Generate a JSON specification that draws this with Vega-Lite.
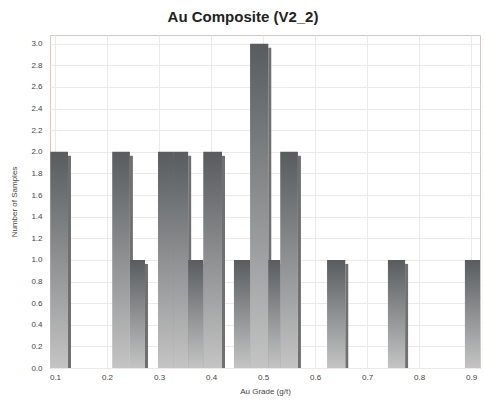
{
  "$schema": "https://vega.github.io/schema/vega-lite/v6.json",
  "width": 430,
  "height": 333,
  "autosize": {"type": "none"},
  "padding": {"left": 50, "top": 35, "right": 5, "bottom": 35},
  "background": "white",
  "title": {"text": "Au Composite (V2_2)", "fontSize": 15, "font": "Liberation Sans", "fontWeight": "bold", "color": "#222", "offset": 10, "anchor": "middle", "dx": -22},
  "config": {
    "view": {"stroke": "#d8c8c0", "strokeWidth": 1},
    "axis": {"labelFont": "Liberation Sans", "titleFont": "Liberation Sans", "labelFontSize": 8, "titleFontSize": 8, "labelColor": "#444", "titleColor": "#444", "titleFontWeight": "normal", "ticks": false, "domain": false, "gridColor": "#f0e8e6", "gridWidth": 1}
  },
  "data": {"values": [
    {"lo": 0.091, "hi": 0.125, "n": 2},
    {"lo": 0.21, "hi": 0.244, "n": 2},
    {"lo": 0.244, "hi": 0.273, "n": 1},
    {"lo": 0.298, "hi": 0.327, "n": 2},
    {"lo": 0.327, "hi": 0.356, "n": 2},
    {"lo": 0.356, "hi": 0.385, "n": 1},
    {"lo": 0.385, "hi": 0.421, "n": 2},
    {"lo": 0.444, "hi": 0.475, "n": 1},
    {"lo": 0.475, "hi": 0.51, "n": 3},
    {"lo": 0.51, "hi": 0.533, "n": 1},
    {"lo": 0.533, "hi": 0.567, "n": 2},
    {"lo": 0.623, "hi": 0.658, "n": 1},
    {"lo": 0.74, "hi": 0.773, "n": 1},
    {"lo": 0.888, "hi": 0.917, "n": 1}
  ]},
  "encoding": {
    "y": {"field": "n", "type": "quantitative", "scale": {"domain": [0, 3.08], "nice": false}, "axis": {"values": [0, 0.2, 0.4, 0.6, 0.8, 1.0, 1.2, 1.4, 1.6, 1.8, 2.0, 2.2, 2.4, 2.6, 2.8, 3.0], "format": ".1f", "title": "Number of Samples", "labelPadding": 8, "titlePadding": 12}}
  },
  "layer": [
    {
      "mark": {"type": "rect", "color": "#707070", "x2Offset": 3, "yOffset": 4, "clip": true},
      "encoding": {
        "x": {"field": "hi", "type": "quantitative", "scale": {"domain": [0.0904, 0.917], "nice": false}, "axis": {"values": [0.1, 0.2, 0.3, 0.4, 0.5, 0.6, 0.7, 0.8, 0.9], "format": ".1f", "title": "Au Grade (g/t)", "labelPadding": 5, "titlePadding": 6}},
        "x2": {"field": "hi"},
        "y": {"field": "n", "type": "quantitative"},
        "y2": {"datum": 0}
      }
    },
    {
      "mark": {"type": "rect", "clip": true, "color": {"gradient": "linear", "x1": 0, "y1": 0, "x2": 0, "y2": 1, "stops": [{"offset": 0, "color": "#585c5f"}, {"offset": 1, "color": "#c4c4c4"}]}},
      "encoding": {
        "x": {"field": "lo", "type": "quantitative"},
        "x2": {"field": "hi"},
        "y": {"field": "n", "type": "quantitative"},
        "y2": {"datum": 0}
      }
    }
  ]
}
